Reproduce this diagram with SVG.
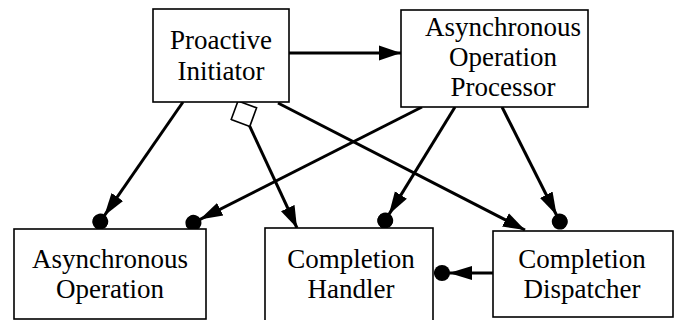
<svg xmlns="http://www.w3.org/2000/svg" width="678" height="320" viewBox="0 0 678 320">
<style>
.box{fill:#fff;stroke:#000;stroke-width:1.6}
.lbl{font-family:'Liberation Serif','Times New Roman',Tinos,'DejaVu Serif',serif;font-size:27px;fill:#000;text-anchor:middle}
.c{fill:none;stroke:#000;stroke-width:3}
</style>
<defs>
<marker id="arr" markerUnits="userSpaceOnUse" markerWidth="22" markerHeight="16" refX="22" refY="8" orient="auto" viewBox="0 0 22 16">
<path d="M0,0.5 L22,8 L0,15.5 z" fill="#000"/>
</marker>
<marker id="arrdot" markerUnits="userSpaceOnUse" markerWidth="38" markerHeight="16" refX="38" refY="8" orient="auto" viewBox="0 0 38 16">
<path d="M0,1 L23,8 L0,15 z" fill="#000"/>
<circle cx="30" cy="8" r="8" fill="#000"/>
</marker>
<marker id="dia" markerUnits="userSpaceOnUse" markerWidth="30" markerHeight="30" refX="1" refY="15" orient="auto" viewBox="0 0 30 30">
<path d="M1,15 L15,1 L29,15 L15,29 z" fill="#fff" stroke="#000" stroke-width="1.6"/>
</marker>
</defs>
<g id="connectors">
<line class="c" x1="289" y1="53" x2="401" y2="53" marker-end="url(#arr)"/>
<line class="c" x1="183" y1="102" x2="95.7" y2="228.2" marker-end="url(#arrdot)"/>
<line class="c" x1="422" y1="107" x2="186.3" y2="226.4" marker-end="url(#arrdot)"/>
<line class="c" x1="455" y1="107" x2="381" y2="227.4" marker-end="url(#arrdot)"/>
<line class="c" x1="502" y1="107" x2="563.4" y2="228.7" marker-end="url(#arrdot)"/>
<line class="c" x1="493" y1="273" x2="434" y2="273" marker-end="url(#arrdot)"/>
<line class="c" x1="278" y1="103" x2="525" y2="230" marker-end="url(#arr)"/>
<line class="c" x1="238" y1="101" x2="297" y2="228" marker-start="url(#dia)" marker-end="url(#arr)"/>
</g>
<g id="proactive-initiator">
<rect class="box" x="153" y="9" width="136" height="93"/>
<text class="lbl" x="221" y="49" font-family="Liberation Serif, serif">Proactive</text>
<text class="lbl" x="221" y="80" font-family="Liberation Serif, serif">Initiator</text>
</g>
<g id="async-op-processor">
<rect class="box" x="401" y="10" width="187" height="97"/>
<text class="lbl" x="503" y="36">Asynchronous</text>
<text class="lbl" x="503" y="66">Operation</text>
<text class="lbl" x="503" y="96">Processor</text>
</g>
<g id="async-operation">
<rect class="box" x="14" y="229" width="192" height="90"/>
<text class="lbl" x="110" y="268">Asynchronous</text>
<text class="lbl" x="110" y="298">Operation</text>
</g>
<g id="completion-handler">
<rect class="box" x="265" y="228" width="168" height="95"/>
<text class="lbl" x="351" y="268">Completion</text>
<text class="lbl" x="351" y="298">Handler</text>
</g>
<g id="completion-dispatcher">
<rect class="box" x="493" y="231" width="180" height="86"/>
<text class="lbl" x="582" y="268">Completion</text>
<text class="lbl" x="582" y="298">Dispatcher</text>
</g>
</svg>
